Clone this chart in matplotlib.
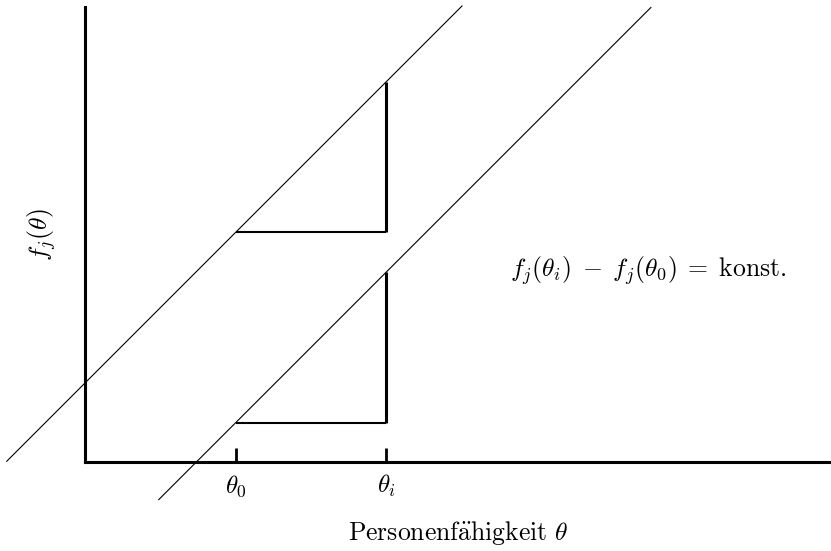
import numpy as np
import matplotlib.pyplot as plt

plt.rcParams['mathtext.fontset'] = 'cm'
plt.rcParams['font.family'] = 'serif'
plt.rcParams['font.serif'] = ['cmr10', 'DejaVu Serif']
plt.rcParams['axes.formatter.use_mathtext'] = True

# ability points and the two parallel item curves f_j(theta) = theta + c
theta_ticks = [1.0, 2.0]
tick_labels = [r'$\theta_0$', r'$\theta_i$']
intercepts = [0.525, -0.74]
line_x = [(-0.52, 2.505), (0.49, 3.76)]

fig = plt.figure(figsize=(8.31, 5.51), dpi=100)
ax = fig.add_axes([85 / 831, 89 / 551, 746 / 831, 455 / 551])
ax.set_xlim(0, 746 / 150.5)
ax.set_ylim(0, 455 / 150.5)

for ax_name in ['top', 'right']:
    ax.spines[ax_name].set_visible(False)
for ax_name in ['left', 'bottom']:
    ax.spines[ax_name].set_linewidth(2.2)

# diagonal lines, running past the axes
for c, (x0, x1) in zip(intercepts, line_x):
    xs = np.array([x0, x1])
    ax.plot(xs, xs + c, color='black', lw=0.8, clip_on=False)

# step triangles between theta_0 and theta_i on each curve
t0, ti = theta_ticks
for c in intercepts:
    ax.plot([t0, ti], [t0 + c, t0 + c], color='black', lw=1.5, solid_capstyle='butt')
    ax.plot([ti, ti], [t0 + c, ti + c], color='black', lw=2.2, solid_capstyle='butt')

ax.set_xticks(theta_ticks)
ax.set_xticklabels(tick_labels, fontsize=18)
ax.set_yticks([])
ax.tick_params(axis='x', direction='in', length=10, width=2.0, pad=8)

ax.set_xlabel(r'$\mathrm{Personenf\ddot{a}higkeit}\ \theta$', fontsize=18.5, labelpad=14)
ax.set_ylabel(r'$f_j(\theta)$', fontsize=18.5)
ax.yaxis.set_label_coords(-0.036, 0.50)

ax.text(3.74, 1.27, r'$f_j(\theta_i)\;-\;f_j(\theta_0)\;=\;\mathrm{konst.}$',
        fontsize=18.5, ha='center', va='center')

fig.savefig('out.png', dpi=100)
